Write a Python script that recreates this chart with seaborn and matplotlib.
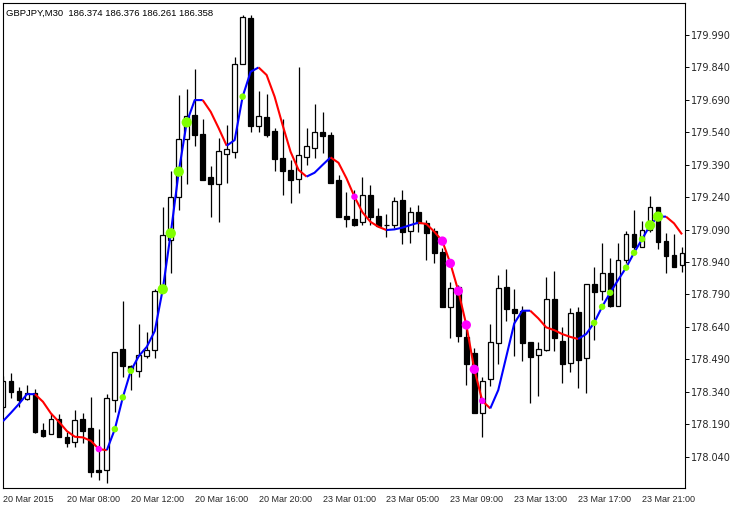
import matplotlib
matplotlib.use("Agg")
import matplotlib.pyplot as plt
import seaborn as sns
import numpy as np
import pandas as pd

# GBPJPY M30, 20 Mar 2015 04:00 .. 23 Mar 2015 ~22:30
symbol_info = "GBPJPY,M30  186.374 186.376 186.261 186.358"

opens = [178.269, 178.390, 178.343, 178.305, 178.333, 178.163, 178.143, 178.212, 178.129, 178.106,
         178.214, 178.171, 177.978, 177.978, 178.302, 178.538, 178.459, 178.437, 178.507, 178.533,
         178.811, 179.042, 179.239, 179.508, 179.620, 179.532, 179.333, 179.299, 179.441, 179.450,
         179.855, 180.070, 179.571, 179.611, 179.547, 179.422, 179.366, 179.323, 179.427, 179.469,
         179.541, 179.528, 179.319, 179.153, 179.138, 179.126, 179.249, 179.153, 179.111, 179.110,
         179.225, 179.082, 179.170, 179.122, 179.083, 178.985, 178.733, 178.826, 178.594, 178.518,
         178.243, 178.397, 178.567, 178.823, 178.723, 178.715, 178.569, 178.508, 178.532, 178.769,
         178.575, 178.471, 178.707, 178.495, 178.838, 178.806, 178.888, 178.736, 178.949, 179.068,
         179.011, 179.088, 179.193, 179.039, 178.972, 178.926]
highs = [178.413, 178.425, 178.363, 178.371, 178.351, 178.195, 178.240, 178.237, 178.155, 178.255,
         178.240, 178.317, 178.167, 178.329, 178.524, 178.760, 178.463, 178.653, 178.618, 178.817,
         179.196, 179.361, 179.713, 179.739, 179.833, 179.602, 179.386, 179.515, 179.574, 179.890,
         180.083, 180.083, 179.731, 179.717, 179.559, 179.600, 179.412, 179.841, 179.559, 179.671,
         179.634, 179.543, 179.342, 179.265, 179.273, 179.335, 179.296, 179.188, 179.161, 179.242,
         179.273, 179.196, 179.204, 179.134, 179.096, 179.003, 178.849, 178.834, 178.658, 178.541,
         178.409, 178.653, 178.880, 178.908, 178.815, 178.736, 178.571, 178.571, 178.869, 178.898,
         178.641, 178.726, 178.730, 178.837, 178.918, 179.027, 178.957, 179.027, 179.083, 179.181,
         179.130, 179.245, 179.196, 179.073, 179.070, 179.011]
lows = [178.246, 178.312, 178.271, 178.302, 178.150, 178.132, 178.143, 178.132, 178.083, 178.086,
        178.101, 177.947, 177.932, 177.919, 178.248, 178.409, 178.348, 178.409, 178.495, 178.495,
        178.801, 178.889, 179.181, 179.299, 179.478, 179.319, 179.150, 179.126, 179.307, 179.422,
        179.855, 179.543, 179.543, 179.520, 179.362, 179.250, 179.214, 179.261, 179.389, 179.420,
        179.443, 179.304, 179.147, 179.103, 179.107, 179.111, 179.111, 179.103, 179.057, 179.096,
        179.023, 179.027, 179.080, 178.949, 178.937, 178.730, 178.587, 178.571, 178.371, 178.240,
        178.132, 178.366, 178.468, 178.668, 178.507, 178.483, 178.289, 178.322, 178.530, 178.530,
        178.379, 178.433, 178.356, 178.335, 178.579, 178.764, 178.733, 178.736, 178.934, 178.980,
        179.011, 179.079, 179.000, 178.891, 178.916, 178.895]
closes = [178.390, 178.340, 178.302, 178.333, 178.155, 178.137, 178.212, 178.132, 178.104, 178.209,
          178.160, 177.970, 177.970, 178.310, 178.522, 178.460, 178.440, 178.510, 178.533, 178.806,
          179.065, 179.239, 179.508, 179.617, 179.529, 179.319, 179.299, 179.453, 179.463, 179.856,
          180.075, 179.571, 179.615, 179.528, 179.418, 179.362, 179.321, 179.434, 179.475, 179.541,
          179.524, 179.307, 179.150, 179.138, 179.111, 179.249, 179.150, 179.108, 179.111, 179.224,
          179.080, 179.170, 179.119, 179.076, 178.980, 178.733, 178.818, 178.599, 178.467, 178.243,
          178.391, 178.569, 178.818, 178.721, 178.705, 178.567, 178.502, 178.536, 178.767, 178.590,
          178.467, 178.703, 178.487, 178.837, 178.803, 178.888, 178.738, 178.949, 179.068, 179.011,
          179.088, 179.193, 179.034, 178.969, 178.918, 178.983]

# smoothed moving average drawn over the candles
ma_values = [178.204, 178.243, 178.284, 178.329, 178.329, 178.294, 178.240, 178.201, 178.158, 178.132,
             178.129, 178.113, 178.075, 178.070, 178.167, 178.314, 178.437, 178.505, 178.548, 178.621,
             178.814, 179.073, 179.358, 179.586, 179.689, 179.689, 179.635, 179.559, 179.478, 179.504,
             179.705, 179.820, 179.840, 179.805, 179.705, 179.574, 179.450, 179.366, 179.335, 179.353,
             179.389, 179.424, 179.399, 179.327, 179.242, 179.170, 179.126, 179.103, 179.088, 179.091,
             179.099, 179.111, 179.122, 179.116, 179.080, 179.037, 178.934, 178.806, 178.649, 178.444,
             178.298, 178.263, 178.348, 178.502, 178.656, 178.715, 178.715, 178.680, 178.638, 178.625,
             178.607, 178.594, 178.584, 178.607, 178.659, 178.733, 178.798, 178.857, 178.914, 178.983,
             179.046, 179.110, 179.150, 179.150, 179.119, 179.068]

# signal dots on the MA (bar indices)
up_small = [14, 15, 16, 30, 74, 75, 76, 78, 79, 80]
up_big = [20, 21, 22, 23, 81, 82]
down_small = [12, 44, 60]
down_big = [55, 56, 57, 58, 59]

x_tick_bars = [0, 8, 16, 24, 32, 40, 48, 56, 64, 72, 80]
x_tick_labels = ["20 Mar 2015", "20 Mar 08:00", "20 Mar 12:00", "20 Mar 16:00", "20 Mar 20:00",
                 "23 Mar 01:00", "23 Mar 05:00", "23 Mar 09:00", "23 Mar 13:00", "23 Mar 17:00",
                 "23 Mar 21:00"]
y_ticks = [178.040, 178.190, 178.340, 178.490, 178.640, 178.790, 178.940,
           179.090, 179.240, 179.390, 179.540, 179.690, 179.840, 179.990]

df = pd.DataFrame({"open": opens, "high": highs, "low": lows, "close": closes, "ma": ma_values})
df["bar"] = np.arange(len(df))

sns.set_style("white")
plt.rcParams["font.family"] = ["DejaVu Sans"]

fig = plt.figure(figsize=(7.38, 5.08), dpi=100)
ax = fig.add_axes([3 / 738, 20 / 508, 682 / 738, 485 / 508])

# candles: wicks then bodies
ax.vlines(df["bar"], df["low"], df["high"], color="black", linewidth=0.9, zorder=1)
bull = df["close"] >= df["open"]
body_low = np.minimum(df["open"], df["close"])
body_h = (df["close"] - df["open"]).abs()
ax.bar(df["bar"], body_h, bottom=body_low, width=0.6,
       color=np.where(bull, "white", "black"), edgecolor="black", linewidth=0.9, zorder=2)

# MA line, blue while rising, red while falling
ma = df["ma"].to_numpy()
cols = []
prev = "blue"
for i in range(len(ma) - 1):
    d = ma[i + 1] - ma[i]
    c = "blue" if d > 0 else ("red" if d < 0 else prev)
    cols.append(c)
    prev = c
start = 0
for i in range(1, len(cols) + 1):
    if i == len(cols) or cols[i] != cols[start]:
        ax.plot(df["bar"][start:i + 1], ma[start:i + 1], color=cols[start],
                linewidth=1.5, zorder=3, solid_capstyle="butt")
        start = i

dots = pd.DataFrame({
    "bar": up_small + up_big + down_small + down_big,
    "kind": (["up"] * len(up_small) + ["up"] * len(up_big)
             + ["down"] * len(down_small) + ["down"] * len(down_big)),
    "big": ([False] * len(up_small) + [True] * len(up_big)
            + [False] * len(down_small) + [True] * len(down_big)),
})
dots["ma"] = ma[dots["bar"]]
dots["s"] = np.where(dots["big"], np.where(dots["kind"] == "up", 55, 45), 22)
sns.scatterplot(data=dots, x="bar", y="ma", hue="kind", size="s", sizes=(22, 55),
                palette={"up": "#80FF00", "down": "#FF00FF"}, linewidth=0,
                legend=False, ax=ax, zorder=4)

ax.set_xlim(0.125, 85.375)
ax.set_ylim(177.895, 180.138)

ax.yaxis.tick_right()
ax.set_yticks(y_ticks)
ax.set_yticklabels([f"{v:.3f}" for v in y_ticks], fontsize=7)
ax.set_xticks(x_tick_bars)
ax.set_xticklabels(x_tick_labels, fontsize=6.5, ha="left", family=["Liberation Sans", "DejaVu Sans"])
ax.tick_params(axis="both", direction="out", length=3, width=0.7, color="black", pad=1.5)
ax.tick_params(axis="x", pad=2)
ax.set_xlabel("")
ax.set_ylabel("")
for sp in ax.spines.values():
    sp.set_color("black")
    sp.set_linewidth(0.8)

ax.text(0.005, 0.987, symbol_info, transform=ax.transAxes, fontsize=6.8,
        va="top", ha="left", color="black", family=["Liberation Sans", "DejaVu Sans"])

fig.savefig("out.png", dpi=100)
